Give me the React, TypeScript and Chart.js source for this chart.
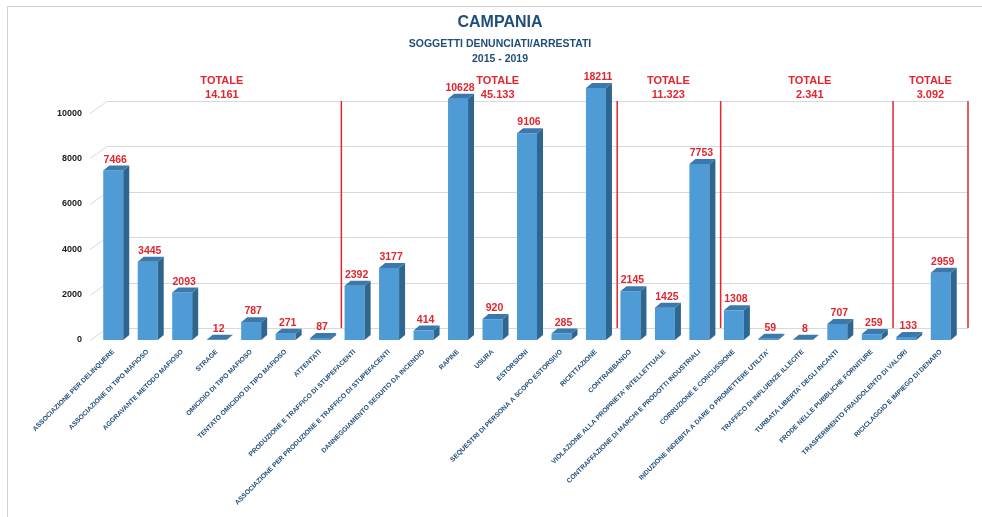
import React, { useEffect, useRef } from "react";
import { Chart, registerables } from "chart.js";

Chart.register(...registerables);

const categories: string[] = [
  "ASSOCIAZIONE PER DELINQUERE",
  "ASSOCIAZIONE DI TIPO MAFIOSO",
  "AGGRAVANTE METODO MAFIOSO",
  "STRAGE",
  "OMICIDIO DI TIPO MAFIOSO",
  "TENTATO OMICIDIO DI TIPO MAFIOSO",
  "ATTENTATI",
  "PRODUZIONE E TRAFFICO DI STUPEFACENTI",
  "ASSOCIAZIONE PER PRODUZIONE E TRAFFICO DI STUPEFACENTI",
  "DANNEGGIAMENTO SEGUITO DA INCENDIO",
  "RAPINE",
  "USURA",
  "ESTORSIONI",
  "SEQUESTRI DI PERSONA A SCOPO ESTORSIVO",
  "RICETTAZIONE",
  "CONTRABBANDO",
  "VIOLAZIONE ALLA PROPRIETA' INTELLETTUALE",
  "CONTRAFFAZIONE DI MARCHI E PRODOTTI INDUSTRIALI",
  "CORRUZIONE E CONCUSSIONE",
  "INDUZIONE INDEBITA A DARE O PROMETTERE UTILITA'",
  "TRAFFICO DI INFLUENZE ILLECITE",
  "TURBATA LIBERTA' DEGLI INCANTI",
  "FRODE NELLE PUBBLICHE FORNITURE",
  "TRASFERIMENTO FRAUDOLENTO DI VALORI",
  "RICICLAGGIO E IMPIEGO DI DENARO",
];

const values: number[] = [
  7466, 3445, 2093, 12, 787, 271, 87,
  2392, 3177, 414, 10628, 920, 9106, 285, 18211,
  2145, 1425, 7753,
  1308, 59, 8, 707, 259,
  133, 2959,
];

// number of categories in each group (left to right)
const groupSizes: number[] = [7, 8, 3, 5, 2];
const yTickValues: number[] = [0, 2000, 4000, 6000, 8000, 10000];

const titleText = "CAMPANIA";
const subtitleLines = ["SOGGETTI DENUNCIATI/ARRESTATI", "2015 - 2019"];
const totalWord = "TOTALE";

const fmtThousands = (n: number) =>
  String(n).replace(/\B(?=(\d{3})+(?!\d))/g, ".");

const FRONT = "#4E9BD6";
const SIDE = "#2F6690";
const TOP = "#3B79AD";
const RED = "#E1262F";
const DARK_BLUE = "#1F4E79";
const FONT = "'Liberation Sans', Arial, sans-serif";

const BACK_DX = 17;
const BACK_DY = 12;
const DEPTH_X = 6;
const DEPTH_Y = 5;

// fractional category positions where each group's "TOTALE" label sits
const groupLabelAnchors = [3.15, 11.15, 16.1, 20.2, 23.7];

const backWallPlugin = {
  id: "backWall",
  beforeDatasetsDraw(chart: any) {
    const { ctx, chartArea, scales } = chart;
    const y = scales.y;
    const x = scales.x;
    ctx.save();
    ctx.strokeStyle = "#D9D9D9";
    ctx.lineWidth = 1;
    yTickValues.forEach((v) => {
      const py = Math.round(y.getPixelForValue(v)) + 0.5;
      ctx.beginPath();
      ctx.moveTo(chartArea.left - 6, py);
      ctx.lineTo(chartArea.left - 6 + BACK_DX, py - BACK_DY);
      ctx.lineTo(chartArea.right + 10, py - BACK_DY);
      ctx.stroke();
    });
    // red separators between groups
    const topY = y.getPixelForValue(10000) - BACK_DY;
    const botY = y.getPixelForValue(0) - BACK_DY;
    ctx.strokeStyle = RED;
    ctx.lineWidth = 1.5;
    let idx = 0;
    groupSizes.forEach((n, g) => {
      idx += n;
      let sx: number;
      if (g === groupSizes.length - 1) {
        sx = chartArea.right + 10;
      } else {
        sx = (x.getPixelForValue(idx - 1) + x.getPixelForValue(idx)) / 2 + 4;
      }
      ctx.beginPath();
      ctx.moveTo(sx, topY);
      ctx.lineTo(sx, botY);
      ctx.stroke();
    });
    ctx.restore();
  },
  afterDatasetsDraw(chart: any) {
    const { ctx, chartArea, scales } = chart;
    const meta = chart.getDatasetMeta(0);
    ctx.save();
    meta.data.forEach((el: any, i: number) => {
      const p = el.getProps(["x", "y", "base", "width"], true);
      const top = Math.max(p.y, chartArea.top);
      const l = p.x - p.width / 2;
      const r = p.x + p.width / 2;
      const b = p.base;
      // side face
      ctx.fillStyle = SIDE;
      ctx.beginPath();
      ctx.moveTo(r, top);
      ctx.lineTo(r + DEPTH_X, top - DEPTH_Y);
      ctx.lineTo(r + DEPTH_X, b - DEPTH_Y);
      ctx.lineTo(r, b);
      ctx.closePath();
      ctx.fill();
      // top face
      ctx.fillStyle = TOP;
      ctx.beginPath();
      ctx.moveTo(l, top);
      ctx.lineTo(l + DEPTH_X, top - DEPTH_Y);
      ctx.lineTo(r + DEPTH_X, top - DEPTH_Y);
      ctx.lineTo(r, top);
      ctx.closePath();
      ctx.fill();
      // value label
      ctx.fillStyle = RED;
      ctx.font = `bold 10.5px ${FONT}`;
      ctx.textAlign = "center";
      ctx.textBaseline = "alphabetic";
      ctx.fillText(String(values[i]), p.x + 2, top - DEPTH_Y - 3);
    });
    // group totals
    const x = scales.x;
    let start = 0;
    ctx.fillStyle = RED;
    ctx.textAlign = "center";
    ctx.textBaseline = "middle";
    ctx.font = `bold 11px ${FONT}`;
    groupSizes.forEach((n, g) => {
      const sum = values.slice(start, start + n).reduce((a, c) => a + c, 0);
      start += n;
      const a = groupLabelAnchors[g];
      const fi = Math.floor(a);
      const px =
        x.getPixelForValue(fi) +
        (a - fi) * (x.getPixelForValue(fi + 1) - x.getPixelForValue(fi));
      ctx.fillText(totalWord, px, chartArea.top - 7);
      ctx.fillText(fmtThousands(sum), px, chartArea.top + 7);
    });
    ctx.restore();
  },
};

export default function App() {
  const canvasRef = useRef<HTMLCanvasElement | null>(null);

  useEffect(() => {
    const canvas = canvasRef.current;
    if (!canvas) return;
    const chart = new Chart(canvas, {
      type: "bar",
      data: {
        labels: categories,
        datasets: [
          {
            data: values,
            backgroundColor: FRONT,
            borderWidth: 0,
            barPercentage: 0.58,
            categoryPercentage: 1,
            clip: { left: false, right: false, top: 0, bottom: false } as any,
          },
        ],
      },
      options: {
        responsive: false,
        animation: false,
        devicePixelRatio: 1,
        layout: { padding: { left: 34, right: 24, top: 0, bottom: 0 } },
        plugins: {
          legend: { display: false },
          tooltip: { enabled: false },
          title: {
            display: true,
            text: titleText,
            color: DARK_BLUE,
            font: { size: 16, weight: "bold", family: FONT, lineHeight: 1.3 },
            padding: { top: 5, bottom: 1 },
          },
          subtitle: {
            display: true,
            text: subtitleLines,
            color: DARK_BLUE,
            font: { size: 10.5, weight: "bold", family: FONT, lineHeight: 1.5 },
            padding: { top: 2, bottom: 20.8 },
          },
        },
        scales: {
          x: {
            grid: { display: false, drawTicks: false },
            border: { display: false },
            ticks: {
              autoSkip: false,
              minRotation: 45,
              maxRotation: 45,
              padding: 8,
              color: DARK_BLUE,
              font: { size: 6.7, weight: "bold", family: FONT },
            },
            afterFit: (s: any) => {
              s.height = 177;
            },
          },
          y: {
            min: 0,
            max: 11100,
            grid: { display: false, drawTicks: false },
            border: { display: false },
            ticks: {
              stepSize: 2000,
              padding: 14,
              color: "#1a1a1a",
              font: { size: 9, weight: "bold", family: FONT },
              callback: (v: any) => String(v),
            },
            afterBuildTicks: (s: any) => {
              s.ticks = yTickValues.map((v) => ({ value: v }));
            },
            afterFit: (s: any) => {
              s.width = 54;
            },
          },
        },
      },
      plugins: [backWallPlugin],
    });
    return () => chart.destroy();
  }, []);

  return (
    <div
      style={{
        position: "fixed",
        left: 7,
        top: 6,
        width: 975,
        height: 511,
        borderTop: "1px solid #D0D0D0",
        borderLeft: "1px solid #D0D0D0",
        background: "#fff",
      }}
    >
      <canvas ref={canvasRef} width={974} height={510} style={{ display: "block" }} />
    </div>
  );
}
